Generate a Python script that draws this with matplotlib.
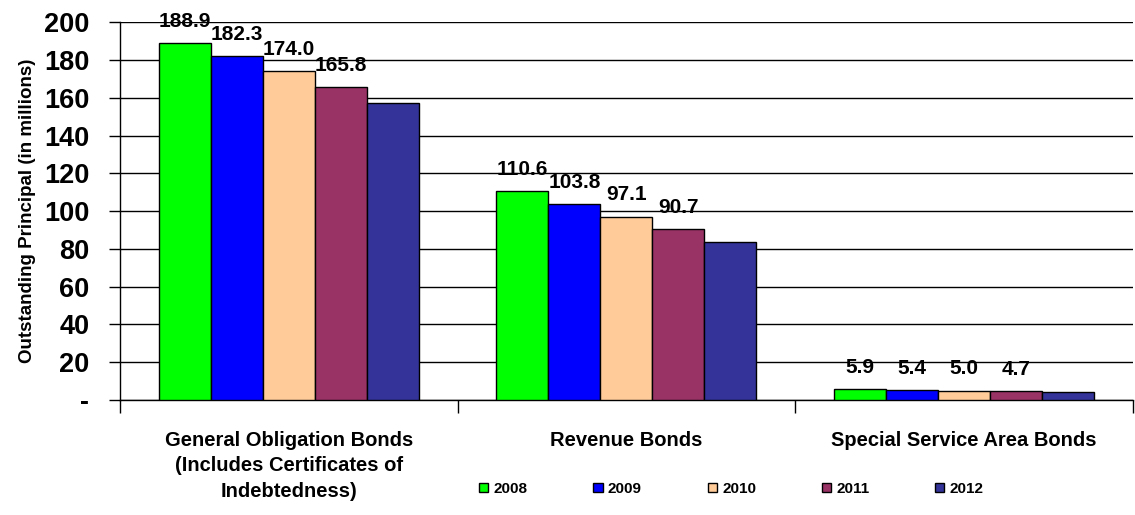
import matplotlib.pyplot as plt
import numpy as np

categories = ["General Obligation Bonds\n(Includes Certificates of\nIndebtedness)",
              "Revenue Bonds",
              "Special Service Area Bonds"]
years = ["2008", "2009", "2010", "2011", "2012"]

principal_2008 = [188.9, 110.6, 5.9]
principal_2009 = [182.3, 103.8, 5.4]
principal_2010 = [174.0, 97.1, 5.0]
principal_2011 = [165.8, 90.7, 4.7]
principal_2012 = [157.4, 83.7, 4.3]

series = [principal_2008, principal_2009, principal_2010, principal_2011, principal_2012]
colors = ["#00FF00", "#0000FF", "#FFCC99", "#993366", "#333399"]
labelled = [True, True, True, True, False]

yticks = [0, 20, 40, 60, 80, 100, 120, 140, 160, 180, 200]
ytick_labels = ["-"] + [str(v) for v in yticks[1:]]

plt.rcParams["font.family"] = ["Liberation Sans", "DejaVu Sans"]
plt.rcParams["font.weight"] = "bold"

fig = plt.figure(figsize=(11.35, 5.15), dpi=100)
ax = fig.add_axes([0.1057, 0.2233, 0.8923, 0.7337])

x = np.arange(len(categories))
width = 0.154
for i, (vals, col) in enumerate(zip(series, colors)):
    pos = x + (i - 2) * width
    ax.bar(pos, vals, width, color=col, edgecolor="black", linewidth=1,
           label=years[i], zorder=3)
    if labelled[i]:
        for p, v in zip(pos, vals):
            ax.text(p, v + 8.5, f"{v:.1f}", ha="center", va="baseline",
                    fontsize=15, fontweight="bold", zorder=4)

ax.set_xlim(-0.5, 2.5)
ax.set_ylim(0, 200)
ax.set_yticks(yticks)
ax.set_yticklabels(ytick_labels, fontsize=19.5, fontweight="bold")
ax.yaxis.grid(True, color="black", linewidth=1, zorder=0)
ax.set_axisbelow(True)

# category boundaries carry the x ticks, names sit between them
ax.set_xticks([-0.5, 0.5, 1.5, 2.5])
ax.set_xticklabels([])
ax.tick_params(axis="x", direction="out", length=9, width=1, color="black")
ax.tick_params(axis="y", direction="out", length=8, width=1, color="black", pad=14)
for xi, name in zip(x, categories):
    ax.text(xi, -16.5, name, ha="center", va="top", fontsize=14.5,
            fontweight="bold", linespacing=1.42)

for side in ["top", "right"]:
    ax.spines[side].set_visible(False)
ax.spines["left"].set_linewidth(1)
ax.spines["bottom"].set_linewidth(1)

ax.set_ylabel("Outstanding Principal (in millions)", fontsize=13.5,
              fontweight="bold", labelpad=6)

leg = fig.legend(loc="center", bbox_to_anchor=(0.6445, 0.0505), ncol=5,
                 frameon=False, fontsize=11, handlelength=0.6,
                 handleheight=0.6, handletextpad=0.35, columnspacing=4.3)
for t in leg.get_texts():
    t.set_fontweight("bold")

fig.savefig("out.png", dpi=100)
